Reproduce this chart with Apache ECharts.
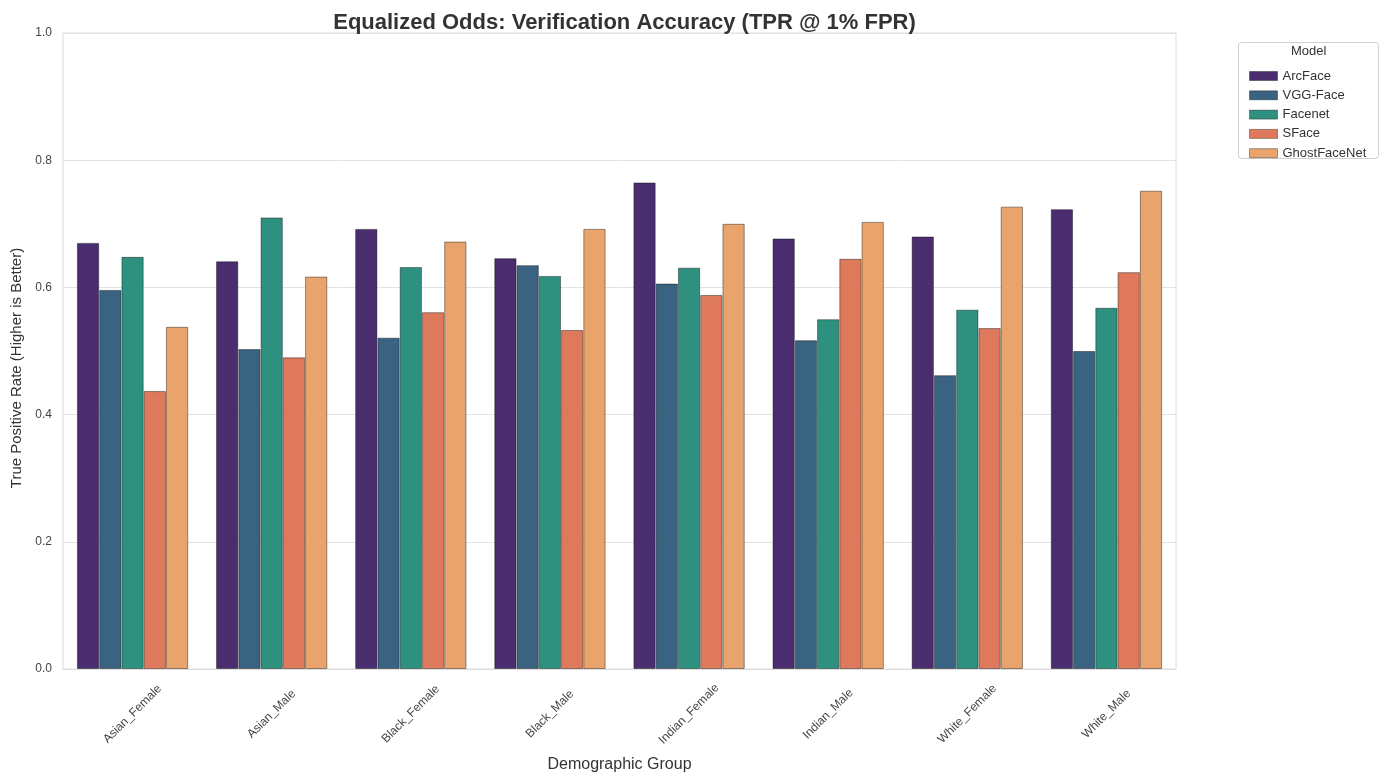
<!DOCTYPE html>
<html>
<head>
<meta charset="utf-8">
<script src="https://cdn.jsdelivr.net/npm/echarts@6/dist/echarts.min.js"></script>
<style>
html,body{margin:0;padding:0;background:#fff;}
#chart{width:1389px;height:778px;}
</style>
</head>
<body>
<div id="chart"></div>
<script>
const categories = ['Asian_Female','Asian_Male','Black_Female','Black_Male','Indian_Female','Indian_Male','White_Female','White_Male'];
const models = ['ArcFace','VGG-Face','Facenet','SFace','GhostFaceNet'];
const arcface = [0.670,0.641,0.692,0.646,0.765,0.677,0.680,0.723];
const vggface = [0.596,0.503,0.521,0.635,0.606,0.517,0.462,0.500];
const facenet = [0.648,0.710,0.632,0.618,0.631,0.550,0.565,0.568];
const sface = [0.437,0.490,0.561,0.533,0.588,0.645,0.536,0.624];
const ghostfacenet = [0.538,0.617,0.672,0.692,0.700,0.703,0.727,0.752];
const yTicks = [0.0,0.2,0.4,0.6,0.8,1.0];

const seriesData = [arcface, vggface, facenet, sface, ghostfacenet];
const colors = ['#4a2d6f','#3a6281','#2e9180','#de7a5b','#e8a46c'];
const FONT = 'Liberation Sans, Arial, sans-serif';

const chart = echarts.init(document.getElementById('chart'));
const gridL = 63, gridR = 1389 - 1176, gridT = 33, gridB = 778 - 671;

chart.setOption({
  animation: false,
  backgroundColor: '#fff',
  color: colors,
  title: {
    text: 'Equalized Odds: Verification Accuracy (TPR @ 1% FPR)',
    left: 619.5, top: 7, textAlign: 'center',
    textStyle: {fontFamily: FONT, fontSize: 22, fontWeight: 'bold', color: '#333'}
  },
  grid: {left: gridL, right: gridR, top: gridT, bottom: gridB, show: true, borderColor: '#dcdcdc', borderWidth: 1, containLabel: false},
  legend: {
    data: models, orient: 'vertical', left: 1244, top: 64,
    itemWidth: 28, itemHeight: 9, itemGap: 5.3,
    icon: 'rect',
    textStyle: {fontFamily: FONT, fontSize: 13, lineHeight: 14, color: '#333'},
    itemStyle: {borderColor: 'rgba(0,0,0,0.35)', borderWidth: 1}
  },
  graphic: [
    {type: 'rect', left: 1238, top: 42, shape: {width: 140, height: 116, r: 3}, style: {fill: '#fff', stroke: '#d0d0d0', lineWidth: 1}, z: -1},
    {type: 'text', left: 1291, top: 45, style: {text: 'Model', font: '13px Liberation Sans, Arial, sans-serif', fill: '#333'}},
    {type: 'text', x: 17, y: 368, rotation: Math.PI / 2,
     style: {text: 'True Positive Rate (Higher is Better)', font: '15px Liberation Sans, Arial, sans-serif', fill: '#333', textAlign: 'center', textVerticalAlign: 'middle'}}
  ],
  xAxis: {
    type: 'category', data: categories,
    name: 'Demographic Group', nameLocation: 'middle', nameGap: 88,
    nameTextStyle: {fontFamily: FONT, fontSize: 16, color: '#333'},
    axisLine: {show: true, lineStyle: {color: '#dcdcdc'}},
    axisTick: {show: false},
    axisLabel: {rotate: 45, align: 'center', verticalAlign: 'middle', fontFamily: FONT, fontSize: 12, color: '#444', margin: 45},
    splitLine: {show: false}
  },
  yAxis: {
    type: 'value', min: 0, max: 1, interval: 0.2,
    axisLine: {show: false}, axisTick: {show: false},
    axisLabel: {fontFamily: FONT, fontSize: 12, color: '#444', margin: 11, formatter: v => v.toFixed(1)},
    splitLine: {show: true, lineStyle: {color: '#e3e3e3', width: 1}}
  },
  series: models.map((m, i) => ({
    name: m, type: 'bar', data: seriesData[i],
    barGap: '0%', barCategoryGap: '20%',
    itemStyle: {color: colors[i], borderColor: 'rgba(0,0,0,0.4)', borderWidth: 1}
  }))
});
</script>
</body>
</html>
